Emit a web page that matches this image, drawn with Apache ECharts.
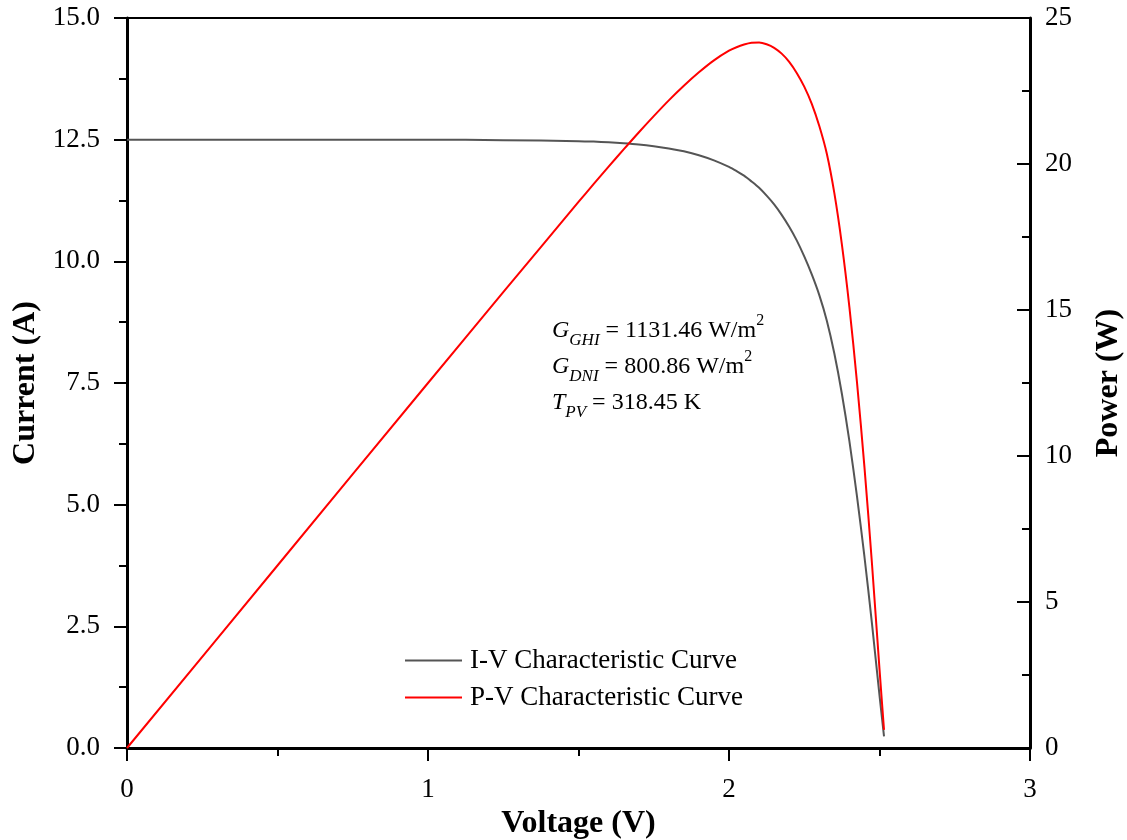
<!DOCTYPE html>
<html>
<head>
<meta charset="utf-8">
<script src="https://cdn.jsdelivr.net/npm/echarts@6/dist/echarts.min.js"></script>
<style>
html,body{margin:0;padding:0;background:#fff;}
#chart{width:1127px;height:840px;}
</style>
</head>
<body>
<div id="chart"></div>
<script>
// Voltage samples (V)
const voltage = [0, 0.5, 1.0, 1.25, 1.5, 1.55, 1.6, 1.65, 1.7, 1.75, 1.8, 1.85, 1.9, 1.95, 2.0,
  2.025, 2.05, 2.075, 2.1, 2.125, 2.15, 2.175, 2.2, 2.225, 2.25, 2.275, 2.3, 2.325, 2.35,
  2.375, 2.4, 2.425, 2.45, 2.475, 2.5, 2.515];
// I-V characteristic (A)
const current = [12.50, 12.50, 12.50, 12.49, 12.47, 12.46, 12.445, 12.425, 12.40, 12.365, 12.32, 12.26, 12.18, 12.075, 11.94,
  11.855, 11.76, 11.64, 11.51, 11.35, 11.17, 10.955, 10.71, 10.43, 10.10, 9.73, 9.305, 8.78, 8.105,
  7.28, 6.305, 5.18, 3.93, 2.555, 1.08, 0.24];
// P-V characteristic (W)
const power = [0, 6.25, 12.5, 15.61, 18.7, 19.31, 19.91, 20.5, 21.08, 21.64, 22.18, 22.68, 23.14, 23.55, 23.88,
  24.0, 24.09, 24.15, 24.16, 24.1, 23.98, 23.78, 23.5, 23.12, 22.65, 22.06, 21.3, 20.35, 19.0,
  17.25, 15.1, 12.55, 9.62, 6.31, 2.7, 0.62];

const xTicks = [0, 1, 2, 3];
const currentTicks = [0, 2.5, 5, 7.5, 10, 12.5, 15];
const powerTicks = [0, 5, 10, 15, 20, 25];

const FONT = 'Liberation Serif';

const chart = echarts.init(document.getElementById('chart'), null, {renderer: 'canvas'});

const ivData = voltage.map((v, i) => [v, current[i]]);
const pvData = voltage.map((v, i) => [v, power[i]]);

const option = {
  backgroundColor: '#ffffff',
  animation: false,
  grid: {left: 127, right: 97, top: 18, bottom: 92, containLabel: false, outerBoundsMode: 'none', show: true, borderColor: '#000', borderWidth: 2, backgroundColor: 'transparent'},
  legend: {
    orient: 'vertical',
    left: 405,
    top: 647,
    padding: 0,
    itemWidth: 57,
    itemHeight: 2,
    itemGap: 10,
    textStyle: {fontFamily: FONT, fontSize: 27, color: '#000', padding: [0, 0, 0, 3]},
    data: [
      {name: 'I-V Characteristic Curve', icon: 'rect'},
      {name: 'P-V Characteristic Curve', icon: 'rect'}
    ]
  },
  xAxis: {
    type: 'value',
    min: xTicks[0],
    max: xTicks[xTicks.length - 1],
    interval: 1,
    name: 'Voltage (V)',
    nameLocation: 'middle',
    nameGap: 57,
    nameTextStyle: {fontFamily: FONT, fontSize: 32, fontWeight: 'bold', color: '#000'},
    axisLine: {show: true, onZero: false, lineStyle: {color: '#000', width: 3}},
    axisTick: {show: true, inside: false, length: 13, lineStyle: {color: '#000', width: 2}},
    minorTick: {show: true, splitNumber: 2, length: 8, lineStyle: {color: '#000', width: 2}},
    axisLabel: {fontFamily: FONT, fontSize: 27, color: '#000', margin: 28},
    splitLine: {show: false}
  },
  yAxis: [
    {
      type: 'value',
      position: 'left',
      min: currentTicks[0],
      max: currentTicks[currentTicks.length - 1],
      interval: 2.5,
      name: 'Current (A)',
      nameLocation: 'middle',
      nameRotate: 90,
      nameGap: 82,
      nameTextStyle: {fontFamily: FONT, fontSize: 32, fontWeight: 'bold', color: '#000'},
      axisLine: {show: true, onZero: false, lineStyle: {color: '#000', width: 3}},
      axisTick: {show: true, inside: false, length: 13, lineStyle: {color: '#000', width: 2}},
      minorTick: {show: true, splitNumber: 2, length: 8, lineStyle: {color: '#000', width: 2}},
      axisLabel: {fontFamily: FONT, fontSize: 27, color: '#000', margin: 27, formatter: v => v.toFixed(1)},
      splitLine: {show: false}
    },
    {
      type: 'value',
      position: 'right',
      min: powerTicks[0],
      max: powerTicks[powerTicks.length - 1],
      interval: 5,
      name: 'Power (W)',
      nameLocation: 'middle',
      nameRotate: 90,
      nameGap: 63,
      nameTextStyle: {fontFamily: FONT, fontSize: 32, fontWeight: 'bold', color: '#000'},
      axisLine: {show: true, onZero: false, lineStyle: {color: '#000', width: 3}},
      axisTick: {show: true, inside: true, length: 13, lineStyle: {color: '#000', width: 2}},
      minorTick: {show: true, splitNumber: 2, length: 8, lineStyle: {color: '#000', width: 2}},
      axisLabel: {fontFamily: FONT, fontSize: 27, color: '#000', margin: 15},
      splitLine: {show: false}
    }
  ],
  series: [
    {
      name: 'I-V Characteristic Curve',
      type: 'line',
      yAxisIndex: 0,
      data: ivData,
      symbol: 'none',
      smooth: 0.3,
      lineStyle: {color: '#555555', width: 2},
      itemStyle: {color: '#555555'}
    },
    {
      name: 'P-V Characteristic Curve',
      type: 'line',
      yAxisIndex: 1,
      data: pvData,
      symbol: 'none',
      smooth: 0.3,
      lineStyle: {color: '#ff0000', width: 2},
      itemStyle: {color: '#ff0000'}
    }
  ],
  graphic: [
    {
      type: 'text',
      left: 552,
      top: 313,
      style: {
        text: '{i|G}{s|GHI}{n| = 1131.46 W/m}{p|2}\n{i|G}{s|DNI}{n| = 800.86 W/m}{p|2}\n{i|T}{s|PV}{n| = 318.45 K}',
        fontFamily: FONT,
        fontSize: 24,
        fill: '#000',
        lineHeight: 36,
        rich: {
          i: {fontFamily: FONT, fontSize: 24, fontStyle: 'italic', fill: '#000', lineHeight: 36, verticalAlign: 'middle'},
          s: {fontFamily: FONT, fontSize: 17, fontStyle: 'italic', fill: '#000', lineHeight: 36, verticalAlign: 'bottom'},
          n: {fontFamily: FONT, fontSize: 24, fill: '#000', lineHeight: 36, verticalAlign: 'middle'},
          p: {fontFamily: FONT, fontSize: 16, fill: '#000', lineHeight: 36, verticalAlign: 'top'}
        }
      }
    }
  ]
};

chart.setOption(option);
</script>
</body>
</html>
